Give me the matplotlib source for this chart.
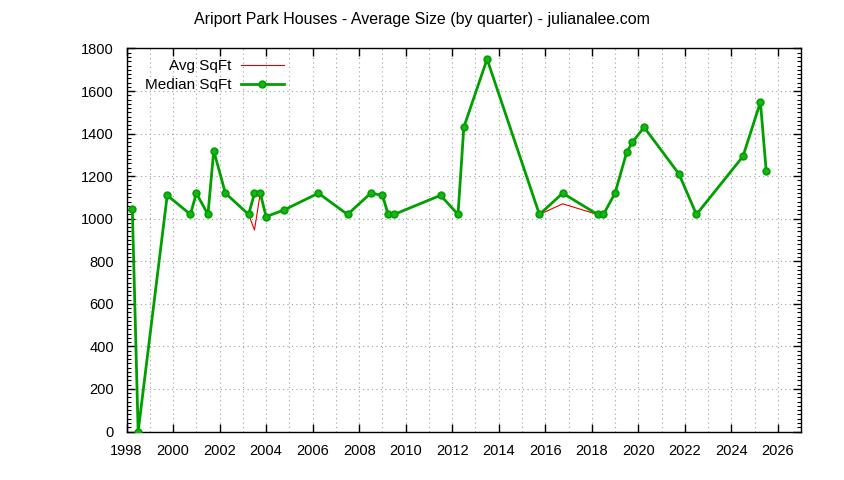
import matplotlib
matplotlib.use("Agg")
import matplotlib.pyplot as plt
from matplotlib.ticker import MultipleLocator

plt.rcParams['font.family'] = ['Liberation Sans', 'DejaVu Sans']

# quarter positions (year + fraction) and sizes
quarter_x = [1998.25, 1998.5, 1999.75, 2000.75, 2001.0, 2001.5, 2001.75, 2002.25,
             2003.25, 2003.5, 2003.75, 2004.0, 2004.75, 2006.25, 2007.5, 2008.5,
             2009.0, 2009.25, 2009.5, 2011.5, 2012.25, 2012.5, 2013.5, 2015.75,
             2016.75, 2018.25, 2018.5, 2019.0, 2019.5, 2019.75, 2020.25, 2021.75,
             2022.5, 2024.5, 2025.25, 2025.5]
median_sqft = [1045, 0, 1110, 1020, 1120, 1020, 1320, 1120,
               1020, 1120, 1120, 1010, 1040, 1120, 1020, 1120,
               1110, 1020, 1020, 1110, 1020, 1430, 1750, 1020,
               1120, 1020, 1020, 1120, 1312, 1360, 1430, 1210,
               1020, 1293, 1548, 1223]
avg_sqft = [1045, 0, 1110, 1020, 1120, 1020, 1320, 1120,
            1020, 947, 1120, 1010, 1040, 1120, 1020, 1120,
            1110, 1020, 1020, 1110, 1020, 1430, 1750, 1020,
            1070, 1020, 1020, 1120, 1312, 1360, 1430, 1210,
            1020, 1293, 1548, 1223]

title = "Ariport Park Houses - Average Size (by quarter) - julianalee.com"

fig = plt.figure(figsize=(8.44, 4.8), dpi=100)
ax = fig.add_axes([0.1499, 0.101, 0.7993, 0.798])

ax.plot(quarter_x, avg_sqft, color='#e00000', lw=0.8, label='Avg SqFt', zorder=3)
ax.plot(quarter_x, median_sqft, color='#00a000', lw=2.0, marker='o', ms=4.8,
        mfc='#18b418', mec='#00a000', mew=1.2, label='Median SqFt', zorder=4)

ax.set_xlim(1998, 2027)
ax.set_ylim(0, 1800)
ax.xaxis.set_major_locator(MultipleLocator(2))
ax.xaxis.set_minor_locator(MultipleLocator(1))
ax.yaxis.set_major_locator(MultipleLocator(200))
ax.yaxis.set_minor_locator(MultipleLocator(20))

ax.tick_params(which='both', direction='in', top=True, right=True, labelsize=10.5, pad=9)
ax.tick_params(which='major', length=6, width=1)
ax.tick_params(which='minor', length=3, width=0.8)
ax.tick_params(axis='x', which='minor', length=0)

# dotted grid: every year on x, every 200 on y
ax.grid(which='major', linestyle=(0, (1, 3)), color='#a0a0a0', lw=0.8)
ax.grid(which='minor', axis='x', linestyle=(0, (1, 3)), color='#a0a0a0', lw=0.8)
ax.set_axisbelow(True)
for s in ax.spines.values():
    s.set_linewidth(1.0)

leg = ax.legend(loc='upper left', bbox_to_anchor=(0.012, 1.0), frameon=False,
                markerfirst=False, handlelength=2.8, handletextpad=0.6,
                labelspacing=0.32, fontsize=11, borderaxespad=0.3)

fig.text(0.5, 0.96, title, ha='center', va='center', fontsize=11.5)

fig.savefig('out.png', dpi=100)
